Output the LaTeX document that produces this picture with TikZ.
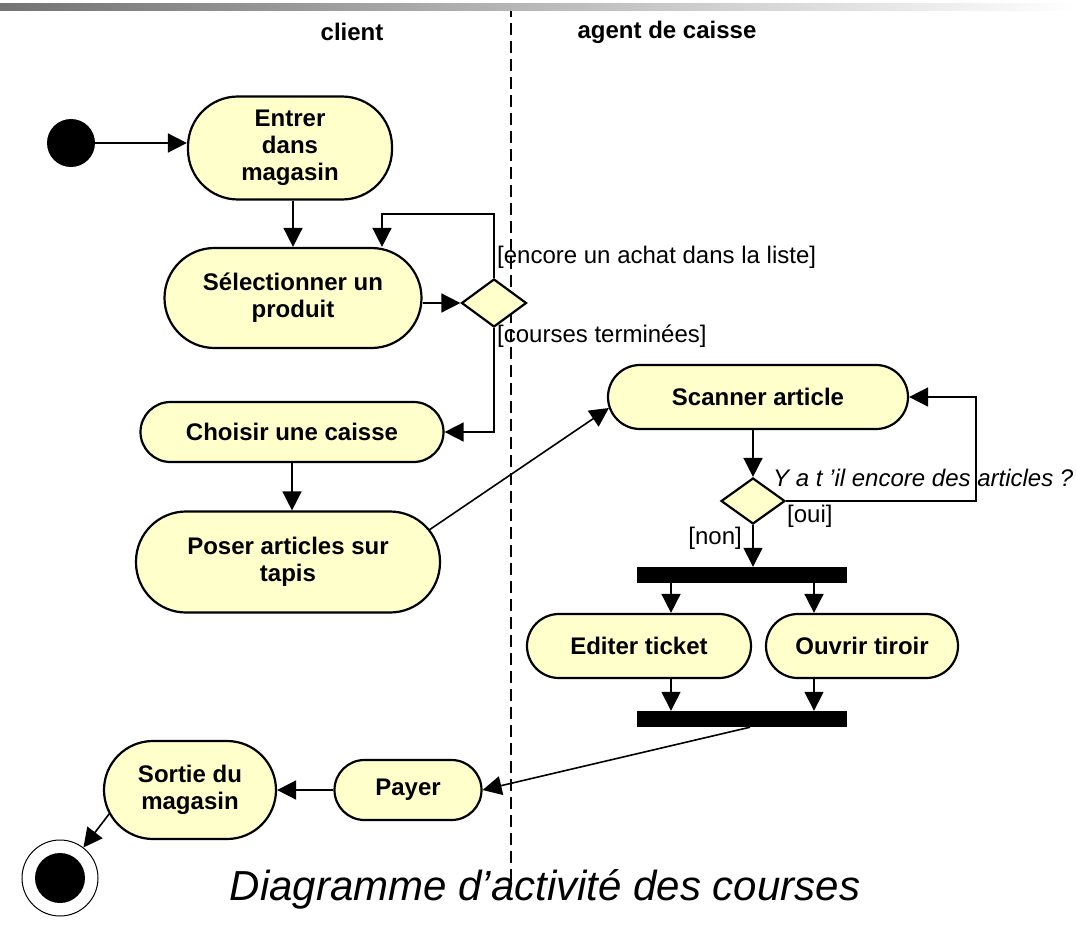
\documentclass[tikz,border=0pt]{standalone}
\usepackage{fontspec}
\setmainfont{Liberation Sans}
\usetikzlibrary{shapes.geometric,arrows.meta,calc}
\definecolor{actfill}{RGB}{255,255,204}
\begin{document}
\begin{tikzpicture}[x=1pt,y=-1pt,
  act/.style={draw, line width=2.2pt, fill=actfill, align=center, inner sep=0pt,
    font=\fontsize{24}{27}\selectfont\bfseries},
  hdr/.style={inner sep=0pt, font=\fontsize{24}{27}\selectfont\bfseries},
  lbl/.style={inner sep=0pt, font=\fontsize{24}{27}\selectfont},
  qlbl/.style={inner sep=0pt, font=\fontsize{24}{27}\selectfont\itshape},
  dec/.style={diamond, draw, line width=2.2pt, fill=actfill, inner sep=0pt},
  barn/.style={rectangle, fill=black, minimum width=210, minimum height=16, inner sep=0pt},
  startn/.style={circle, fill=black, minimum size=48, inner sep=0pt},
  arr/.style={line width=1.6pt, -{Triangle[length=19pt,width=19pt]}}
]
\useasboundingbox (0,0) rectangle (1076,936);
\draw[line width=2pt, dash pattern=on 12pt off 6pt] (511,5) -- (511,886);
\shade[left color=black!55, right color=white] (0,4) rectangle (1076,11);

\node[hdr] (hclient) at (352,32) {client};
\node[hdr] (hagent) at (667,32) {agent de caisse};

\node[startn] (start) at (71,143) {};
\node[act, minimum width=204, minimum height=103, rounded corners=50] (entrer) at (290,148) {Entrer\\dans\\magasin};
\node[act, minimum width=257, minimum height=100, rounded corners=50] (select) at (293,298) {Sélectionner un\\produit};
\node[dec, minimum width=65, minimum height=48] (dec1) at (494,303) {};
\node[act, minimum width=303, minimum height=60, rounded corners=30] (choisir) at (292,432) {Choisir une caisse};
\node[act, minimum width=304, minimum height=101, rounded corners=50] (poser) at (288,562) {Poser articles sur\\tapis};
\node[act, minimum width=300, minimum height=64, rounded corners=32] (scan) at (758,397) {Scanner article};
\node[dec, minimum width=64, minimum height=46] (dec2) at (753,501) {};
\node[barn] (bar1) at (742,575) {};
\node[act, minimum width=224, minimum height=64, rounded corners=32] (editer) at (639,646) {Editer ticket};
\node[act, minimum width=192, minimum height=64, rounded corners=32] (ouvrir) at (862,646) {Ouvrir tiroir};
\node[barn] (bar2) at (742,719) {};
\node[act, minimum width=147, minimum height=60, rounded corners=30] (payer) at (408,790) {Payer};
\node[act, minimum width=172, minimum height=98, rounded corners=49] (sortie) at (190,790) {Sortie du\\magasin};
\node[draw, circle, line width=1pt, minimum size=76, inner sep=0pt] (endn) at (60,878) {};
\node[circle, fill=black, minimum size=50, inner sep=0pt] (endin) at (endn) {};

\node[lbl, anchor=west] (g1) at (497,257) {[encore un achat dans la liste]};
\node[lbl, anchor=west] (g2) at (497,336) {[courses terminées]};
\node[qlbl, anchor=west] (q) at (773,478) {Y a t ’il encore des articles ?};
\node[lbl, anchor=west] (g3) at (787,516) {[oui]};
\node[lbl, anchor=east] (g4) at (742,538) {[non]};

\node[inner sep=0pt, font=\fontsize{42}{48}\selectfont\itshape] (cap) at (545,889) {Diagramme d’activité des courses};

\draw[arr] (start) -- (start -| entrer.west);
\draw[arr] ([xshift=3pt]entrer.south) -- ([xshift=0pt]select.north);
\draw[arr] (select.east |- dec1.west) -- (dec1.west);
\draw[arr] (dec1.north) -- ++(0,-64) -| ([xshift=89pt]select.north);
\draw[arr] (dec1.south) |- (choisir.east);
\draw[arr] (choisir.south) -- (choisir.south |- poser.north);
\draw[arr] ([xshift=-12pt,yshift=32pt]poser.east) -- ([xshift=2pt,yshift=-11pt]scan.west);
\draw[arr] (dec2.north |- scan.south) -- (dec2.north);
\draw[arr] (dec2.east) -- ++(190,0) |- (scan.east);
\draw[arr] (dec2.south) -- (dec2.south |- bar1.north);
\draw[arr] ([xshift=-71pt]bar1.south) -- ([xshift=32pt]editer.north);
\draw[arr] ([xshift=72pt]bar1.south) -- ([xshift=-48pt]ouvrir.north);
\draw[arr] ([xshift=32pt]editer.south) -- ([xshift=-71pt]bar2.north);
\draw[arr] ([xshift=-48pt]ouvrir.south) -- ([xshift=72pt]bar2.north);
\draw[arr] ([xshift=8pt]bar2.south) -- (payer.east);
\draw[arr] (payer.west) -- (sortie.east);
\draw[arr] ([xshift=6.6pt,yshift=-23.5pt]sortie.west) -- (endn);
\end{tikzpicture}
\end{document}
